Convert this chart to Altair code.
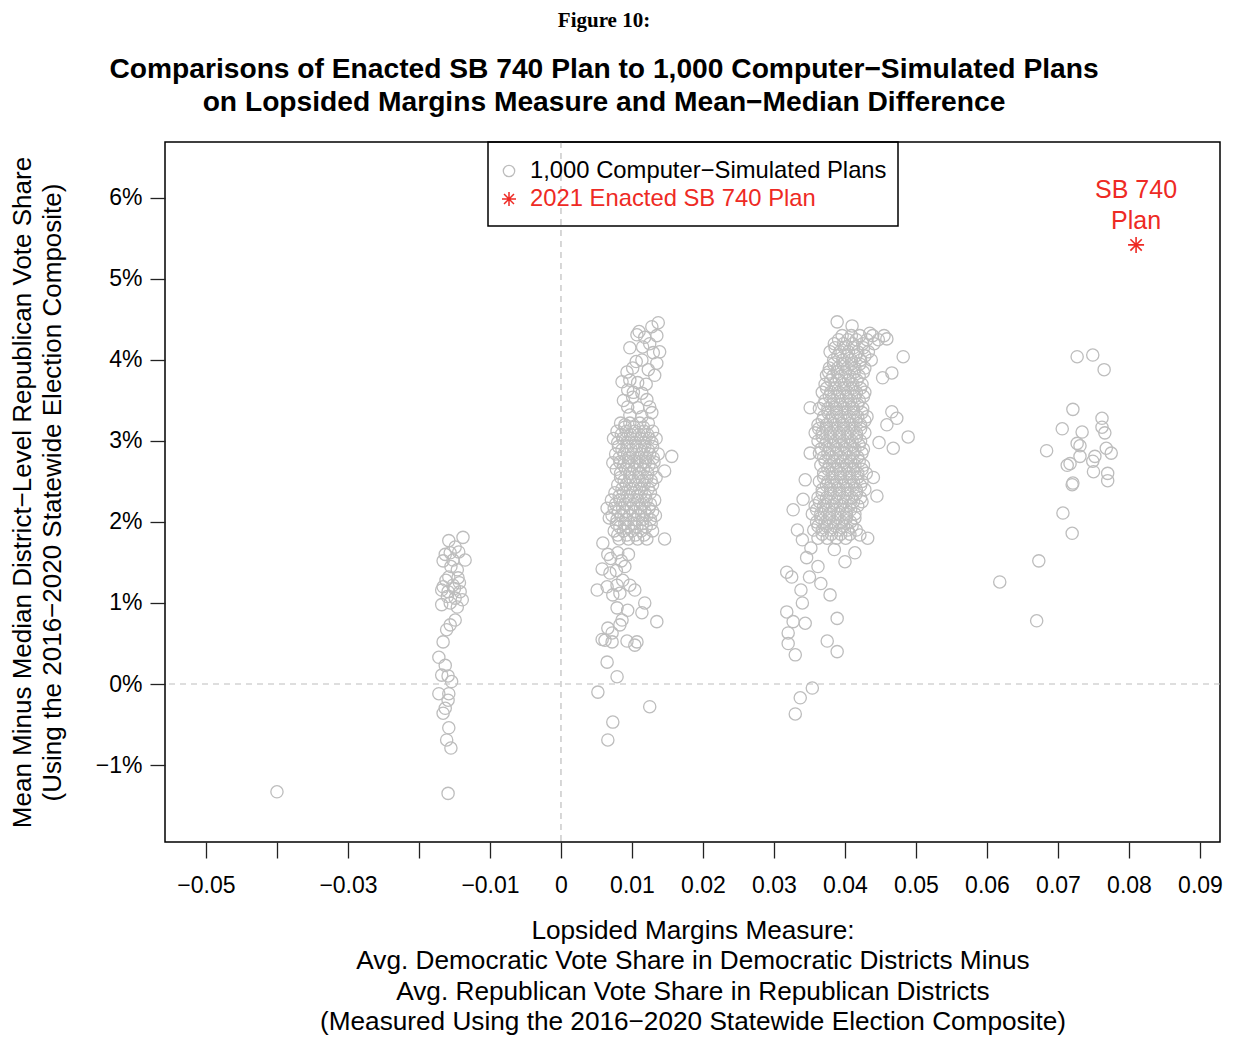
import altair as alt
import pandas as pd

# ---------------- data ----------------
# x = Lopsided Margins Measure, y = Mean-Median difference in percent
outlier_pts = [(-0.0400, -1.33)]

cluster_a = [(-0.0138, 1.81), (-0.0158, 1.77), (-0.0149, 1.69), (-0.0156, 1.62), (-0.0144, 1.63),
             (-0.0166, 1.52), (-0.0152, 1.53), (-0.0135, 1.53), (-0.0146, 1.41), (-0.0158, 1.32),
             (-0.0145, 1.31), (-0.0166, 1.20), (-0.0152, 1.22), (-0.0159, 1.14), (-0.0142, 1.14),
             (-0.0168, 1.16), (-0.0149, 1.06), (-0.0139, 1.04), (-0.0168, 0.98), (-0.0156, 1.00),
             (-0.0146, 0.95), (-0.0149, 0.79), (-0.0156, 0.73), (-0.0161, 0.67), (-0.0166, 0.52),
             (-0.0172, 0.33), (-0.0163, 0.23), (-0.0168, 0.11), (-0.0159, 0.10), (-0.0154, 0.03),
             (-0.0172, -0.12), (-0.0158, -0.12), (-0.0159, -0.20), (-0.0163, -0.30), (-0.0166, -0.36),
             (-0.0158, -0.54), (-0.0161, -0.69), (-0.0155, -0.79), (-0.0159, -1.35), (-0.0155, 1.45),
             (-0.0162, 1.28), (-0.0150, 1.18), (-0.0160, 1.08), (-0.0143, 1.25), (-0.0163, 1.60)]

cluster_b_outer = [(0.0137, 4.46), (0.0128, 4.41), (0.0110, 4.35), (0.0107, 4.31), (0.0118, 4.28),
                   (0.0135, 4.30), (0.0097, 4.15), (0.0115, 4.16), (0.0139, 4.10), (0.0130, 4.09),
                   (0.0114, 4.00), (0.0135, 3.96), (0.0101, 3.90), (0.0093, 3.85), (0.0123, 3.88),
                   (0.0086, 3.73), (0.0097, 3.75), (0.0108, 3.72), (0.0132, 3.81), (0.0094, 3.63),
                   (0.0114, 3.59), (0.0101, 3.54), (0.0121, 3.51), (0.0094, 3.42), (0.0108, 3.41),
                   (0.0125, 3.42), (0.0097, 3.32), (0.0114, 3.30), (0.0128, 3.35), (0.0090, 3.20),
                   (0.0156, 2.81), (0.0146, 2.63), (0.0146, 1.79), (0.0073, 2.73), (0.0065, 2.17),
                   (0.0068, 2.05), (0.0059, 1.74), (0.0066, 1.60), (0.0070, 1.55), (0.0080, 1.62),
                   (0.0085, 1.52), (0.0095, 1.60), (0.0058, 1.42), (0.0069, 1.37), (0.0078, 1.40),
                   (0.0090, 1.45), (0.0051, 1.16), (0.0065, 1.20), (0.0079, 1.22), (0.0087, 1.28),
                   (0.0097, 1.22), (0.0104, 1.16), (0.0073, 1.10), (0.0083, 1.12), (0.0118, 1.00),
                   (0.0079, 0.94), (0.0094, 0.91), (0.0114, 0.88), (0.0135, 0.77), (0.0086, 0.79),
                   (0.0083, 0.73), (0.0066, 0.69), (0.0072, 0.63), (0.0058, 0.55), (0.0062, 0.54),
                   (0.0072, 0.52), (0.0093, 0.53), (0.0107, 0.52), (0.0104, 0.48), (0.0065, 0.27),
                   (0.0079, 0.09), (0.0052, -0.10), (0.0125, -0.28), (0.0073, -0.47), (0.0066, -0.69),
                   (0.0102, 3.60), (0.0120, 3.70), (0.0106, 3.98), (0.0125, 4.20), (0.0088, 3.50)]

cluster_b_core = {
    3.22: [0.0084, 0.0097, 0.0111, 0.0123],
    3.17: [0.0090, 0.0103, 0.0116],
    3.12: [0.0079, 0.0092, 0.0104, 0.0117, 0.0129],
    3.08: [0.0085, 0.0098, 0.0110, 0.0122],
    3.03: [0.0074, 0.0087, 0.0099, 0.0112, 0.0124, 0.0134],
    2.98: [0.0080, 0.0093, 0.0105, 0.0117, 0.0128],
    2.93: [0.0081, 0.0093, 0.0106, 0.0118, 0.0129],
    2.89: [0.0086, 0.0099, 0.0111, 0.0123],
    2.84: [0.0077, 0.0089, 0.0101, 0.0113, 0.0125, 0.0137],
    2.79: [0.0082, 0.0095, 0.0107, 0.0119, 0.0130],
    2.74: [0.0083, 0.0095, 0.0107, 0.0119, 0.0131],
    2.70: [0.0088, 0.0100, 0.0112, 0.0124],
    2.65: [0.0078, 0.0091, 0.0103, 0.0116, 0.0128],
    2.60: [0.0084, 0.0097, 0.0110, 0.0122],
    2.55: [0.0084, 0.0097, 0.0109, 0.0121, 0.0134],
    2.51: [0.0089, 0.0102, 0.0115, 0.0127],
    2.46: [0.0080, 0.0092, 0.0105, 0.0117, 0.0129],
    2.41: [0.0086, 0.0098, 0.0111, 0.0123],
    2.36: [0.0076, 0.0088, 0.0101, 0.0113, 0.0126],
    2.32: [0.0082, 0.0094, 0.0107, 0.0119],
    2.27: [0.0071, 0.0083, 0.0096, 0.0108, 0.0120, 0.0132],
    2.22: [0.0077, 0.0090, 0.0102, 0.0114, 0.0126],
    2.17: [0.0075, 0.0087, 0.0099, 0.0112, 0.0124],
    2.13: [0.0081, 0.0093, 0.0105, 0.0118, 0.0129],
    2.08: [0.0072, 0.0085, 0.0097, 0.0109, 0.0121, 0.0133],
    2.03: [0.0079, 0.0091, 0.0103, 0.0115, 0.0126],
    1.98: [0.0078, 0.0090, 0.0103, 0.0115, 0.0127],
    1.94: [0.0083, 0.0095, 0.0107, 0.0120],
    1.89: [0.0075, 0.0088, 0.0100, 0.0113, 0.0129],
    1.84: [0.0080, 0.0093, 0.0105, 0.0117],
    1.79: [0.0082, 0.0095, 0.0108, 0.0121],
}

cluster_c_outer = [(0.0389, 4.47), (0.0410, 4.42), (0.0435, 4.33), (0.0459, 4.26), (0.0482, 4.04),
                   (0.0374, 3.81), (0.0453, 3.78), (0.0466, 3.84), (0.0351, 3.41), (0.0466, 3.36),
                   (0.0473, 3.28), (0.0459, 3.20), (0.0489, 3.05), (0.0468, 2.91), (0.0448, 2.98),
                   (0.0351, 2.85), (0.0344, 2.52), (0.0327, 2.15), (0.0341, 2.28), (0.0333, 1.90),
                   (0.0340, 1.78), (0.0346, 1.56), (0.0318, 1.38), (0.0325, 1.32), (0.0350, 1.32),
                   (0.0338, 1.16), (0.0366, 1.24), (0.0379, 1.10), (0.0340, 1.00), (0.0318, 0.89),
                   (0.0327, 0.77), (0.0344, 0.75), (0.0389, 0.81), (0.0320, 0.63), (0.0320, 0.50),
                   (0.0330, 0.36), (0.0375, 0.53), (0.0389, 0.40), (0.0354, -0.05), (0.0337, -0.17),
                   (0.0330, -0.37), (0.0432, 1.80), (0.0421, 1.84), (0.0400, 1.51), (0.0414, 1.62),
                   (0.0445, 2.32), (0.0440, 2.55), (0.0352, 1.68), (0.0362, 1.45), (0.0385, 1.66)]

cluster_c_core = {
    4.30: [0.0396, 0.0409, 0.0421, 0.0439, 0.0455],
    4.25: [0.0391, 0.0404, 0.0416, 0.0431, 0.0447],
    4.20: [0.0385, 0.0398, 0.0411, 0.0425, 0.0441],
    4.15: [0.0386, 0.0399, 0.0412, 0.0426],
    4.10: [0.0379, 0.0393, 0.0405, 0.0418, 0.0433],
    4.05: [0.0390, 0.0403, 0.0415, 0.0428],
    4.00: [0.0384, 0.0397, 0.0409, 0.0422, 0.0437],
    3.95: [0.0384, 0.0397, 0.0409, 0.0421],
    3.90: [0.0378, 0.0390, 0.0403, 0.0414, 0.0428],
    3.85: [0.0377, 0.0389, 0.0401, 0.0413, 0.0426],
    3.80: [0.0383, 0.0395, 0.0407, 0.0420],
    3.75: [0.0380, 0.0392, 0.0405, 0.0417],
    3.70: [0.0372, 0.0386, 0.0399, 0.0411, 0.0424],
    3.65: [0.0374, 0.0386, 0.0398, 0.0410, 0.0422],
    3.60: [0.0368, 0.0380, 0.0392, 0.0404, 0.0416, 0.0428],
    3.55: [0.0378, 0.0390, 0.0402, 0.0414, 0.0426],
    3.50: [0.0372, 0.0384, 0.0396, 0.0408, 0.0420],
    3.45: [0.0370, 0.0382, 0.0394, 0.0406, 0.0418],
    3.40: [0.0364, 0.0376, 0.0388, 0.0400, 0.0412, 0.0425],
    3.35: [0.0376, 0.0388, 0.0400, 0.0412, 0.0424],
    3.30: [0.0370, 0.0382, 0.0394, 0.0406, 0.0418, 0.0431],
    3.25: [0.0368, 0.0380, 0.0392, 0.0404, 0.0416, 0.0428],
    3.20: [0.0362, 0.0374, 0.0386, 0.0398, 0.0410, 0.0422],
    3.15: [0.0363, 0.0374, 0.0386, 0.0398, 0.0410, 0.0422],
    3.10: [0.0358, 0.0368, 0.0380, 0.0392, 0.0404, 0.0416, 0.0428],
    3.05: [0.0368, 0.0380, 0.0392, 0.0404, 0.0416],
    3.00: [0.0362, 0.0374, 0.0386, 0.0398, 0.0410, 0.0422],
    2.95: [0.0372, 0.0384, 0.0396, 0.0408, 0.0420],
    2.90: [0.0366, 0.0378, 0.0390, 0.0402, 0.0414, 0.0426],
    2.85: [0.0364, 0.0376, 0.0388, 0.0400, 0.0412, 0.0424],
    2.80: [0.0370, 0.0382, 0.0394, 0.0406, 0.0418],
    2.75: [0.0372, 0.0384, 0.0396, 0.0408, 0.0420],
    2.70: [0.0366, 0.0378, 0.0390, 0.0402, 0.0414, 0.0426],
    2.65: [0.0376, 0.0388, 0.0400, 0.0412, 0.0424],
    2.60: [0.0370, 0.0382, 0.0394, 0.0406, 0.0418, 0.0430],
    2.55: [0.0370, 0.0382, 0.0394, 0.0406, 0.0418],
    2.50: [0.0364, 0.0376, 0.0388, 0.0400, 0.0412, 0.0424],
    2.45: [0.0374, 0.0386, 0.0398, 0.0410, 0.0422],
    2.40: [0.0368, 0.0380, 0.0392, 0.0404, 0.0416, 0.0428],
    2.35: [0.0368, 0.0380, 0.0392, 0.0404, 0.0416],
    2.30: [0.0362, 0.0374, 0.0386, 0.0398, 0.0410, 0.0422],
    2.25: [0.0364, 0.0376, 0.0388, 0.0400, 0.0412, 0.0424],
    2.20: [0.0358, 0.0370, 0.0382, 0.0394, 0.0406, 0.0418],
    2.15: [0.0360, 0.0372, 0.0384, 0.0396, 0.0408],
    2.10: [0.0354, 0.0366, 0.0378, 0.0390, 0.0402, 0.0414],
    2.05: [0.0366, 0.0378, 0.0390, 0.0402, 0.0414],
    2.00: [0.0360, 0.0372, 0.0384, 0.0396, 0.0408],
    1.95: [0.0362, 0.0374, 0.0386, 0.0398, 0.0410],
    1.90: [0.0356, 0.0368, 0.0380, 0.0392, 0.0404, 0.0416],
    1.85: [0.0368, 0.0381, 0.0394, 0.0407],
    1.80: [0.0362, 0.0375, 0.0388, 0.0401],
}

cluster_d = [(0.0727, 4.04), (0.0749, 4.06), (0.0765, 3.88), (0.0721, 3.39), (0.0762, 3.28),
             (0.0762, 3.17), (0.0766, 3.10), (0.0706, 3.15), (0.0734, 3.11), (0.0727, 2.97),
             (0.0731, 2.94), (0.0768, 2.91), (0.0775, 2.85), (0.0684, 2.88), (0.0731, 2.81),
             (0.0752, 2.81), (0.0713, 2.70), (0.0717, 2.72), (0.0749, 2.75), (0.0770, 2.60),
             (0.0770, 2.51), (0.0720, 2.46), (0.0721, 2.48), (0.0707, 2.11), (0.0720, 1.86),
             (0.0673, 1.52), (0.0618, 1.26), (0.0670, 0.78), (0.0750, 2.62)]

enacted_x = [0.081]
enacted_y = [5.42]

X_TICKS = [-0.05, -0.04, -0.03, -0.02, -0.01, 0, 0.01, 0.02, 0.03, 0.04, 0.05, 0.06, 0.07, 0.08, 0.09]
Y_TICKS = [-1, 0, 1, 2, 3, 4, 5, 6]

TITLE_LINES = ["Comparisons of Enacted SB 740 Plan to 1,000 Computer\u2212Simulated Plans",
               "on Lopsided Margins Measure and Mean\u2212Median Difference"]
X_TITLE = ["Lopsided Margins Measure:",
           "Avg. Democratic Vote Share in Democratic Districts Minus",
           "Avg. Republican Vote Share in Republican Districts",
           "(Measured Using the 2016\u22122020 Statewide Election Composite)"]
Y_TITLE = ["Mean Minus Median District\u2212Level Republican Vote Share",
           "(Using the 2016\u22122020 Statewide Election Composite)"]

# ---------------- build table ----------------
rows = []
for (x, y) in outlier_pts + cluster_a + cluster_b_outer + cluster_c_outer + cluster_d:
    rows.append({"x": x, "y": y})
for core in (cluster_b_core, cluster_c_core):
    for y, xs in core.items():
        for x in xs:
            rows.append({"x": x, "y": y})
pts = pd.DataFrame(rows)
enacted = pd.DataFrame({"x": enacted_x, "y": enacted_y})

FONT = "Liberation Sans"
GREY = "#bdbdbd"
RED = "#ee2a24"
ASTERISK = "M-1,0L1,0M0,-1L0,1M-0.71,-0.71L0.71,0.71M-0.71,0.71L0.71,-0.71"

xscale = alt.Scale(domain=[-0.05577, 0.09282], nice=False, zero=False)
yscale = alt.Scale(domain=[-1.95, 6.69], nice=False, zero=False)

x_label_expr = ("(abs(datum.value + 0.04) < 1e-9 || abs(datum.value + 0.02) < 1e-9) ? '' : "
                "(datum.value < -1e-9 ? '\u2212' + format(-datum.value, '.2f') : "
                "(abs(datum.value) < 1e-9 ? '0' : format(datum.value, '.2f')))")
y_label_expr = "(datum.value < 0 ? '\u2212' : '') + abs(datum.value) + '%'"

xaxis = alt.Axis(values=X_TICKS, labelExpr=x_label_expr, tickSize=16, tickColor="#222222",
                 tickWidth=1.3, domain=False, grid=False, labelFontSize=23, labelFont=FONT,
                 labelColor="black", labelPadding=16, labelFlush=False, labelOverlap=False,
                 title=X_TITLE, titleFontSize=26.2, titleFont=FONT, titleFontWeight="normal",
                 titleColor="black", titleLineHeight=30.5, titlePadding=20)
yaxis = alt.Axis(values=Y_TICKS, labelExpr=y_label_expr, tickSize=15, tickColor="#222222",
                 tickWidth=1.3, domain=False, grid=False, labelFontSize=23, labelFont=FONT,
                 labelColor="black", labelPadding=8, labelFlush=False, labelOverlap=False,
                 title=Y_TITLE, titleFontSize=26, titleFont=FONT, titleFontWeight="normal",
                 titleColor="black", titleLineHeight=30, titlePadding=30)


def X(field="x"):
    return alt.X(f"{field}:Q", scale=xscale, axis=xaxis)


def Y(field="y"):
    return alt.Y(f"{field}:Q", scale=yscale, axis=yaxis)


points = alt.Chart(pts).mark_point(shape="circle", filled=False, size=150, color=GREY,
                                   strokeWidth=1.3, opacity=1).encode(x=X(), y=Y())

vline = alt.Chart(pd.DataFrame({"x": [0]})).mark_rule(
    color="#bdbdbd", strokeDash=[6, 5], strokeWidth=1.2).encode(x=X())
hline = alt.Chart(pd.DataFrame({"y": [0]})).mark_rule(
    color="#bdbdbd", strokeDash=[6, 5], strokeWidth=1.2).encode(y=Y())

star = alt.Chart(enacted).mark_point(shape=ASTERISK, filled=False, size=256, color=RED,
                                     strokeWidth=1.6, opacity=1).encode(x=X(), y=Y())
star_lab1 = alt.Chart(enacted).mark_text(text="SB 740", font=FONT, fontSize=25, color=RED,
                                         baseline="middle", align="center", dy=-55).encode(
    x=X(), y=Y())
star_lab2 = alt.Chart(enacted).mark_text(text="Plan", font=FONT, fontSize=25, color=RED,
                                         baseline="middle", align="center", dy=-24).encode(
    x=X(), y=Y())

one = pd.DataFrame({"k": [0]})
legend_box = alt.Chart(one).mark_rect(fillOpacity=0, stroke="black", strokeWidth=1.5).encode(
    x=alt.value(323), x2=alt.value(733), y=alt.value(0), y2=alt.value(84))
leg_c = alt.Chart(one).mark_point(shape="circle", filled=False, size=130, color=GREY,
                                  strokeWidth=1.3, opacity=1).encode(
    x=alt.value(344), y=alt.value(29))
leg_s = alt.Chart(one).mark_point(shape=ASTERISK, filled=False, size=196, color=RED,
                                  strokeWidth=1.5, opacity=1).encode(
    x=alt.value(344), y=alt.value(57))
leg_t1 = alt.Chart(one).mark_text(text="1,000 Computer\u2212Simulated Plans", font=FONT,
                                  fontSize=23.8, color="black", align="left",
                                  baseline="middle").encode(x=alt.value(365), y=alt.value(29))
leg_t2 = alt.Chart(one).mark_text(text="2021 Enacted SB 740 Plan", font=FONT, fontSize=23.8,
                                  color=RED, align="left", baseline="middle").encode(
    x=alt.value(365), y=alt.value(57))

fig_lab = alt.Chart(one).mark_text(text="Figure 10:", font="Liberation Serif", fontSize=21,
                                   fontWeight="bold", color="black", align="center",
                                   baseline="middle").encode(x=alt.value(439), y=alt.value(-121))
title1 = alt.Chart(one).mark_text(text=TITLE_LINES[0], font=FONT, fontSize=28.2, fontWeight="bold",
                                  color="black", align="center", baseline="middle").encode(
    x=alt.value(439), y=alt.value(-72))
title2 = alt.Chart(one).mark_text(text=TITLE_LINES[1], font=FONT, fontSize=28.2, fontWeight="bold",
                                  color="black", align="center", baseline="middle").encode(
    x=alt.value(439), y=alt.value(-39))

chart = alt.layer(
    points, vline, hline, star, star_lab1, star_lab2,
    legend_box, leg_c, leg_s, leg_t1, leg_t2, fig_lab, title1, title2
).properties(
    width=1055, height=700,
    autosize=alt.AutoSizeParams(type="none"),
    padding={"left": 157, "top": 134, "right": 6, "bottom": 196},
).configure_view(stroke="black", strokeWidth=1.5)

chart.save("out.html", embed_options={"renderer": "svg", "actions": False})
